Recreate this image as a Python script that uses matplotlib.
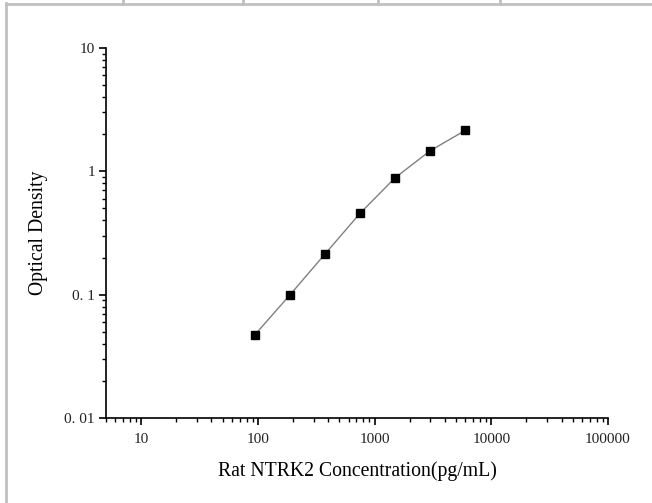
import matplotlib.pyplot as plt
from matplotlib.lines import Line2D
from matplotlib.ticker import FixedLocator, FixedFormatter, LogLocator, NullFormatter

# standard curve values
conc = [93.75, 187.5, 375, 750, 1500, 3000, 6000]
od = [0.047, 0.099, 0.213, 0.456, 0.887, 1.47, 2.15]

x_ticks = [10, 100, 1000, 10000, 100000]
x_tick_labels = ["10", "100", "1000", "10000", "100000"]
y_ticks = [0.01, 0.1, 1, 10]
y_tick_labels = ["0. 01", "0. 1", "1", "10"]

plt.rcParams['font.family'] = ['Liberation Serif', 'DejaVu Serif']

fig = plt.figure(figsize=(6.52, 5.03), dpi=100)
ax = fig.add_axes([106 / 652, 85 / 503, 502 / 652, 370 / 503])

ax.plot(conc, od, color='#808080', linewidth=1, marker='s', markersize=6,
        markerfacecolor='black', markeredgecolor='black')

ax.set_xscale('log')
ax.set_yscale('log')
ax.set_xlim(5, 100000)
ax.set_ylim(0.01, 10)

ax.xaxis.set_major_locator(FixedLocator(x_ticks))
ax.xaxis.set_major_formatter(FixedFormatter(x_tick_labels))
ax.yaxis.set_major_locator(FixedLocator(y_ticks))
ax.yaxis.set_major_formatter(FixedFormatter(y_tick_labels))
ax.xaxis.set_minor_locator(LogLocator(base=10, subs=range(2, 10), numticks=20))
ax.yaxis.set_minor_locator(LogLocator(base=10, subs=range(2, 10), numticks=20))
ax.xaxis.set_minor_formatter(NullFormatter())
ax.yaxis.set_minor_formatter(NullFormatter())

ax.spines['top'].set_visible(False)
ax.spines['right'].set_visible(False)
for s in ['left', 'bottom']:
    ax.spines[s].set_linewidth(1.2)

ax.tick_params(which='major', direction='out', length=5, width=1.2,
               labelsize=11, colors='black', labelcolor='#222222')
ax.tick_params(axis='x', which='major', pad=6)
ax.tick_params(axis='y', which='major', pad=3)
ax.tick_params(which='minor', direction='out', length=3, width=1)

ax.set_xlabel('Rat NTRK2 Concentration(pg/mL)', fontsize=14.2, labelpad=11)
ax.set_ylabel('Optical Density', fontsize=14.2, labelpad=12)

# page frame around the chart
grey = '#c0c0c0'
fig.add_artist(Line2D([6 / 652, 6 / 652], [0, 1 - 3 / 503], color=grey, lw=2, transform=fig.transFigure))
fig.add_artist(Line2D([6 / 652, 1], [1 - 4 / 503, 1 - 4 / 503], color=grey, lw=2, transform=fig.transFigure))
for px in [123, 243, 378, 500]:
    fig.add_artist(Line2D([px / 652, px / 652], [1 - 4 / 503, 1], color=grey, lw=2, transform=fig.transFigure))

fig.savefig('out.png', dpi=100)
